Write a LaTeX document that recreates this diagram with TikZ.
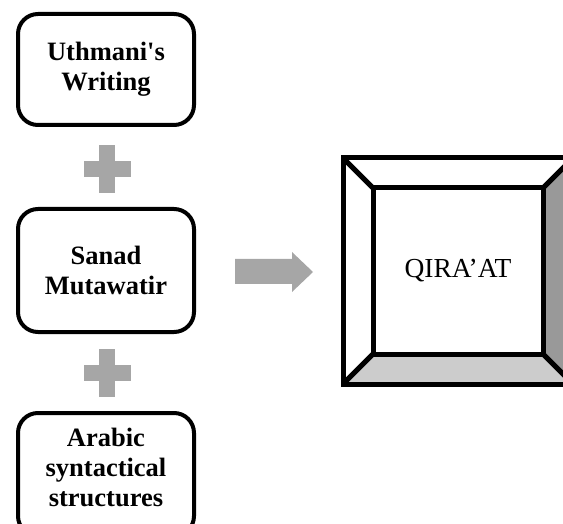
\documentclass[tikz,border=0pt]{standalone}
\usepackage{fontspec}
\setmainfont{Liberation Serif}
\definecolor{plusgray}{HTML}{A6A6A6}
\definecolor{bevdark}{HTML}{999999}
\definecolor{bevlight}{HTML}{CCCCCC}
\tikzset{
  srcbox/.style={draw=black, line width=4pt, rounded corners=20pt, fill=white,
    minimum width=176pt, minimum height=111pt, align=center,
    font=\bfseries\fontsize{26.5}{30}\selectfont, inner sep=0pt},
  plusmark/.style={fill=plusgray, draw=none},
  bevel/.style={draw=black, line width=5pt, line join=miter},
}
\begin{document}
\begin{tikzpicture}[x=1pt,y=-1pt]
\useasboundingbox (0,0) rectangle (563,524);
% source boxes
\node[srcbox] (b1) at (106,69.5) {Uthmani\textquotesingle s\\Writing};
\node[srcbox, minimum height=123pt] (b2) at (106,270.5) {Sanad\\Mutawatir};
\node[srcbox, minimum height=123pt] (b3) at (106,474.5) {};
\node[font=\bfseries\fontsize{26.5}{30}\selectfont, align=center] (b3t) at (106,467) {Arabic\\syntactical\\structures};
% plus signs
\coordinate (p1) at (107,169);
\coordinate (p2) at (107,373);
\foreach \p in {p1,p2}{
  \fill[plusmark] ([xshift=-23.5pt,yshift=8pt]\p) rectangle ([xshift=23.5pt,yshift=-8pt]\p);
  \fill[plusmark] ([xshift=-8pt,yshift=24pt]\p) rectangle ([xshift=8pt,yshift=-24pt]\p);
}
% bevel frame
\coordinate (o1) at (343,158);
\coordinate (o2) at (573,158);
\coordinate (o3) at (573,384);
\coordinate (o4) at (343,384);
\coordinate (i1) at (373,188);
\coordinate (i2) at (543,188);
\coordinate (i3) at (543,354);
\coordinate (i4) at (373,354);
\fill[white] (o1) -- (o2) -- (i2) -- (i1) -- cycle;
\fill[white] (o1) -- (i1) -- (i4) -- (o4) -- cycle;
\fill[bevdark] (o2) -- (o3) -- (i3) -- (i2) -- cycle;
\fill[bevlight] (o4) -- (i4) -- (i3) -- (o3) -- cycle;
\draw[bevel] (o1) -- (i1) (o2) -- (i2) (o3) -- (i3) (o4) -- (i4);
\draw[bevel] (o1) rectangle (o3);
\node[draw=black, line width=5pt, fill=white, minimum width=170pt, minimum height=166pt,
  font=\fontsize{27.5}{30}\selectfont] (q) at (458,271) {QIRA’AT};
% arrow
\fill[plusgray] (235,259) -- (292,259) -- (292,252) -- (313,272) -- (292,292) -- (292,284) -- (235,284) -- cycle;
\end{tikzpicture}
\end{document}
